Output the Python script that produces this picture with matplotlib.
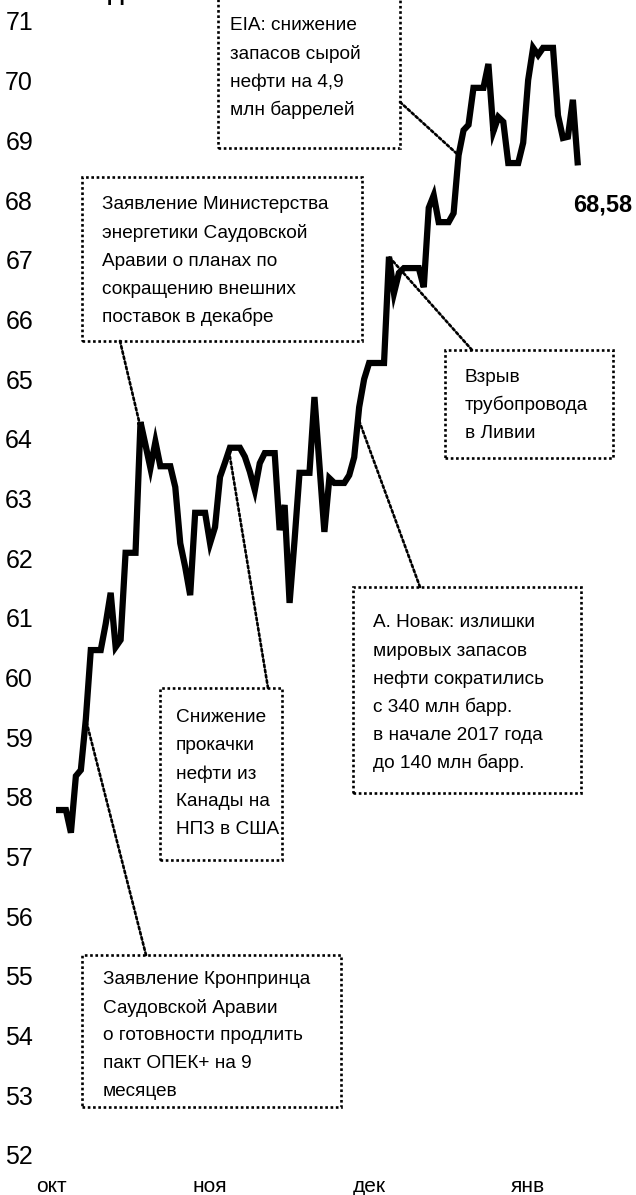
import pandas as pd
import matplotlib
matplotlib.use('Agg')
import matplotlib.pyplot as plt
from matplotlib.patches import Rectangle

plt.rcParams['font.family'] = ['Liberation Sans', 'DejaVu Sans']

W, H = 636, 1195

# цены закрытия по торговым дням (выходные на графике - ровные участки)
trade_days = pd.bdate_range('2017-10-20', '2018-02-02').drop(
    pd.to_datetime(['2017-12-25', '2018-01-01']))
prices = [
    57.78, 57.40, 58.35, 58.45, 59.30, 60.46, 60.90, 61.42,
    60.51, 60.63, 62.09, 64.28, 63.90, 63.51, 63.95, 63.54, 63.19, 62.25,
    61.85, 61.38, 62.76, 62.25, 62.52, 63.36, 63.60, 63.85, 63.70, 63.45,
    63.14, 63.59,
    63.76, 62.47, 62.89, 61.25, 62.30, 63.43, 64.70, 63.57, 62.44, 63.34,
    63.26, 63.39, 63.69, 64.53, 65.00, 65.27, 67.05, 66.44, 66.78, 66.86,
    66.54, 67.87, 68.08, 67.63, 67.78, 68.75, 69.17, 69.26, 69.88, 70.28,
    69.15, 69.39, 69.31, 68.62, 68.96, 70.01, 70.55, 70.43, 70.55, 69.42,
    69.04, 69.06,
    69.68, 68.58,
]
last_label = '68,58'
y_ticks = list(range(52, 72))
month_pos = pd.to_datetime(['2017-10-19', '2017-11-20', '2017-12-22', '2018-01-23'])
month_names = ['окт', 'ноя', 'дек', 'янв']

series = pd.Series(prices, index=trade_days)
daily = series.reindex(pd.date_range('2017-10-20', '2018-02-02')).ffill()


def fp(x, y):
    # пиксели от левого верхнего угла -> доли фигуры
    return (x / W, 1 - y / H)


fig = plt.figure(figsize=(W / 100, H / 100), dpi=100)
L, R, T, B = 40, 600, 21, 1155
ax = fig.add_axes([L / W, 1 - B / H, (R - L) / W, (B - T) / H])

ax.plot(daily.index, daily.values, color='black', lw=4.5,
        solid_joinstyle='miter', solid_capstyle='butt')

x0 = pd.Timestamp('2017-10-20') - pd.Timedelta(days=16 / 4.97)
ax.set_xlim(x0, x0 + pd.Timedelta(days=(R - L) / 4.97))
ax.set_ylim(52, 71)
ax.set_yticks(y_ticks)
ax.set_yticklabels([str(v) for v in y_ticks])
ax.set_xticks(month_pos)
ax.set_xticklabels(month_names)
ax.tick_params(axis='y', length=0, pad=5, labelsize=18)
ax.tick_params(axis='x', length=0, pad=16, labelsize=15)
for s in ax.spines.values():
    s.set_visible(False)

fig.text(*fp(108, 0), 'Динамика', fontsize=16, fontweight='bold', va='baseline')

fig.text(*fp(573, 205), last_label, fontsize=17, fontweight='bold', va='center')

dot = (0, (1, 1))
notes = [
    # (левый, верх, правый, низ), x текста, y первой строки, строки, точка на линии, конец выноски
    ((218, -10, 400, 148), 230, 26, ['EIA: снижение', 'запасов сырой',
                                     'нефти на 4,9', 'млн баррелей'],
     ('2018-01-09', 68.75), (400, 102)),
    ((82, 177, 362, 341), 102, 205, ['Заявление Министерства',
                                     'энергетики Саудовской',
                                     'Аравии о планах по',
                                     'сокращению внешних',
                                     'поставок в декабре'],
     ('2017-11-05 20:00', 64.25), (120, 341)),
    ((445, 350, 613, 458), 465, 377, ['Взрыв', 'трубопровода', 'в Ливии'],
     ('2017-12-26', 67.05), (472, 350)),
    ((353, 587, 581, 793), 373, 623, ['А. Новак: излишки',
                                      'мировых запасов',
                                      'нефти сократились',
                                      'с 340 млн барр.',
                                      'в начале 2017 года',
                                      'до 140 млн барр.'],
     ('2017-12-20', 64.3), (420, 587)),
    ((160, 688, 282, 860), 176, 718, ['Снижение', 'прокачки', 'нефти из',
                                      'Канады на', 'НПЗ в США'],
     ('2017-11-24', 63.7), (268, 688)),
    ((82, 955, 341, 1107), 103, 980, ['Заявление Кронпринца',
                                      'Саудовской Аравии',
                                      'о готовности продлить',
                                      'пакт ОПЕК+ на 9',
                                      'месяцев'],
     ('2017-10-26', 59.3), (146, 955)),
]
step = 28
for (l, t, r, b), tx, ty, lines, pt, end in notes:
    fig.add_artist(Rectangle(fp(l, b), (r - l) / W, (b - t) / H,
                             transform=fig.transFigure, fill=False,
                             color='black', lw=1.9, ls=dot))
    for i, s in enumerate(lines):
        fig.text(*fp(tx, ty + i * step), s, fontsize=13.7, va='center')
    ax.annotate('', xy=(pd.Timestamp(pt[0]), pt[1]), xycoords='data',
                xytext=fp(*end), textcoords='figure fraction',
                annotation_clip=False,
                arrowprops=dict(arrowstyle='-', color='black', lw=1.9,
                                linestyle=dot, shrinkA=0, shrinkB=0))

fig.savefig('out.png', dpi=100)
